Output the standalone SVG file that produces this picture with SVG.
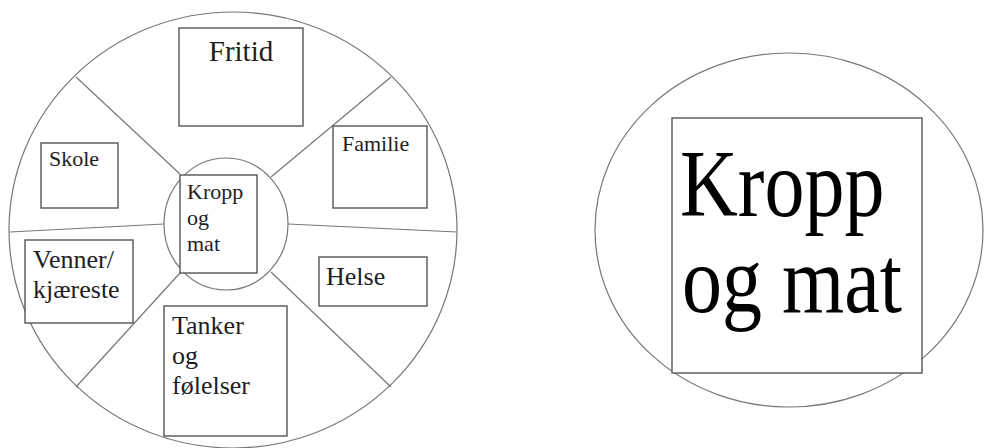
<svg xmlns="http://www.w3.org/2000/svg" width="984" height="448" viewBox="0 0 984 448">
<style>
.ring{fill:none;stroke:#777;stroke-width:1.2}
.spoke{stroke:#777;stroke-width:1.2;fill:none}
.box{fill:#fff;stroke:#555;stroke-width:1.4}
.lbl{font-family:"Liberation Serif","Times New Roman",serif;fill:#1e1e1e}
</style>
<rect width="984" height="448" fill="#fff"/>
<g id="wheel">
<ellipse class="ring" cx="233" cy="230" rx="224" ry="218"/>
</g>
<g id="connectors">
<line class="spoke" x1="76" y1="77" x2="180" y2="174"/>
<line class="spoke" x1="391" y1="77" x2="271" y2="177"/>
<line class="spoke" x1="10" y1="232" x2="164" y2="224"/>
<line class="spoke" x1="288" y1="224" x2="457" y2="232"/>
<line class="spoke" x1="180" y1="273" x2="76" y2="387"/>
<line class="spoke" x1="271" y1="272" x2="391" y2="387"/>
</g>
<g id="hub">
<ellipse class="ring" cx="226" cy="224" rx="62" ry="66" fill="#fff"/>
</g>
<g id="node-kropp">
<rect class="box" x="180" y="175" width="77" height="98"/>
<text class="lbl" font-size="22" x="187" y="199">Kropp</text>
<text class="lbl" font-size="22" x="187" y="225">og</text>
<text class="lbl" font-size="22" x="187" y="251">mat</text>
</g>
<g id="node-fritid">
<rect class="box" x="179" y="28" width="124" height="98"/>
<text class="lbl" font-size="29" x="241" y="61" text-anchor="middle">Fritid</text>
</g>
<g id="node-familie">
<rect class="box" x="333" y="126" width="94" height="82"/>
<text class="lbl" font-size="22" x="342" y="151">Familie</text>
</g>
<g id="node-skole">
<rect class="box" x="41" y="143" width="77" height="65"/>
<text class="lbl" font-size="22" x="49" y="166">Skole</text>
</g>
<g id="node-venner">
<rect class="box" x="25" y="240" width="108" height="83"/>
<text class="lbl" font-size="26" x="33" y="268">Venner/</text>
<text class="lbl" font-size="26" x="33" y="298">kjæreste</text>
</g>
<g id="node-helse">
<rect class="box" x="319" y="257" width="108" height="49"/>
<text class="lbl" font-size="26" x="326" y="285">Helse</text>
</g>
<g id="node-tanker">
<rect class="box" x="164" y="306" width="123" height="130"/>
<text class="lbl" font-size="26" x="172" y="334">Tanker</text>
<text class="lbl" font-size="26" x="172" y="364">og</text>
<text class="lbl" font-size="26" x="172" y="394">følelser</text>
</g>
<g id="node-kropp-large">
<ellipse class="ring" cx="789" cy="230" rx="194" ry="177"/>
<rect class="box" x="672" y="118" width="250" height="255"/>
<text class="lbl" font-size="80" fill="#000" transform="translate(680 216) scale(1 1.2)" style="fill:#000">Kropp</text>
<text class="lbl" font-size="80" transform="translate(682 312) scale(1 1.2)" style="fill:#000">og mat</text>
</g>
</svg>
